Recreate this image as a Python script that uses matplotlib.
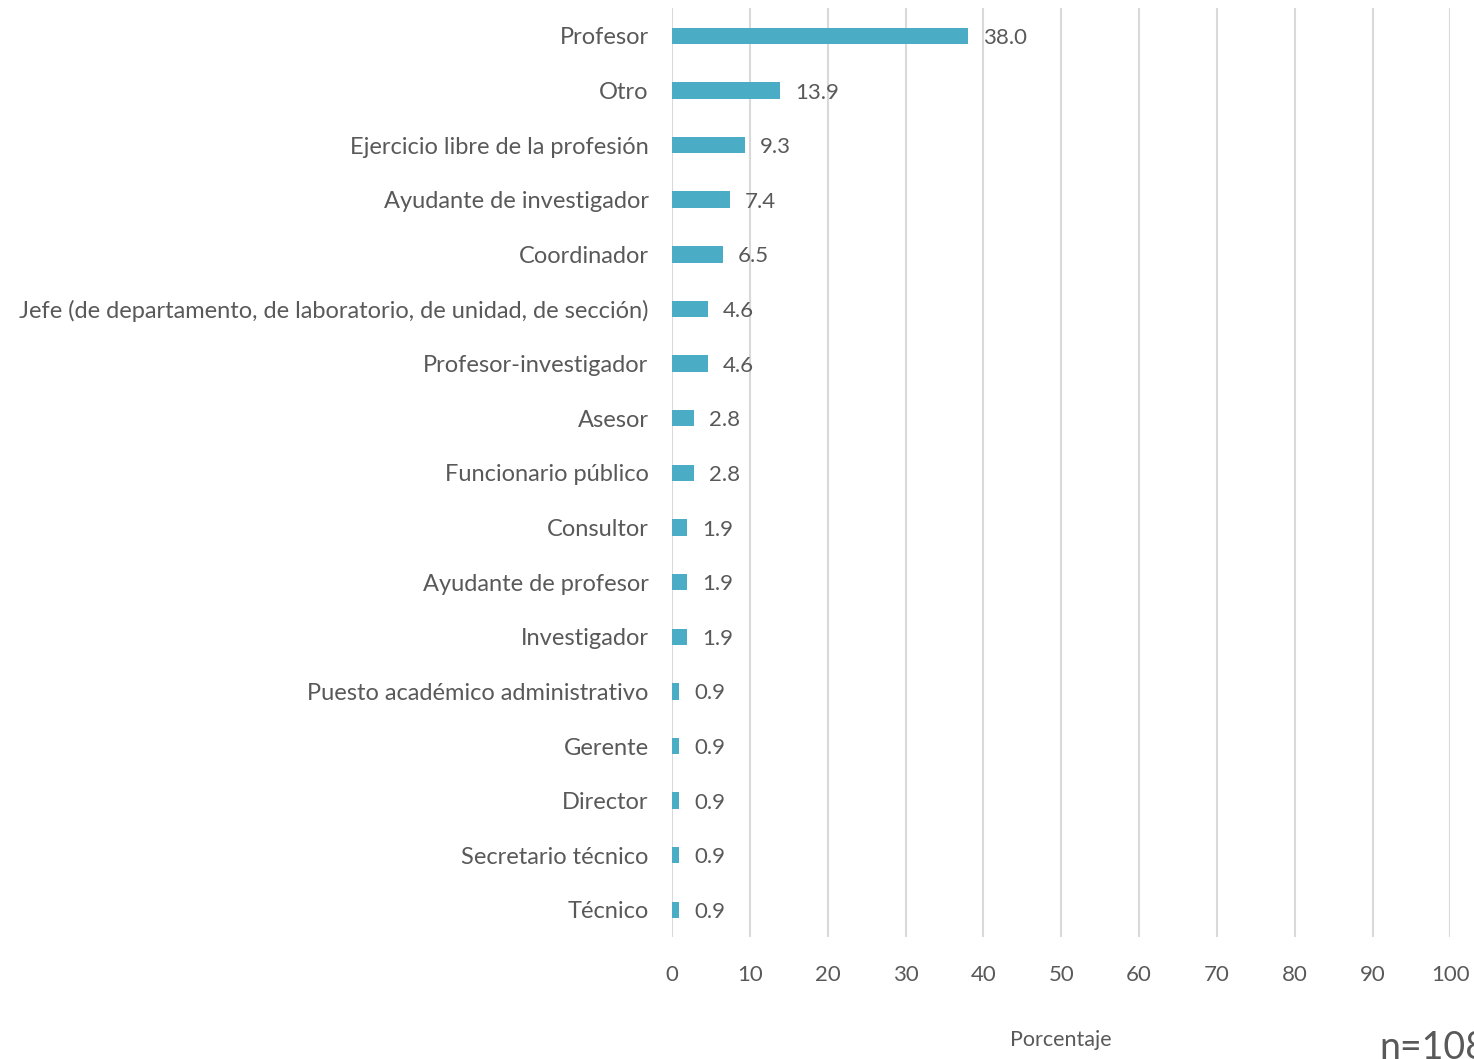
import matplotlib
matplotlib.use('Agg')
import matplotlib.pyplot as plt

categorias = [
    'Profesor', 'Otro', 'Ejercicio libre de la profesión',
    'Ayudante de investigador', 'Coordinador',
    'Jefe (de departamento, de laboratorio, de unidad, de sección)',
    'Profesor-investigador', 'Asesor', 'Funcionario público', 'Consultor',
    'Ayudante de profesor', 'Investigador',
    'Puesto académico administrativo', 'Gerente', 'Director',
    'Secretario técnico', 'Técnico',
]
porcentajes = [38.0, 13.9, 9.3, 7.4, 6.5, 4.6, 4.6, 2.8, 2.8, 1.9, 1.9, 1.9,
               0.9, 0.9, 0.9, 0.9, 0.9]
ticks_x = [0, 10, 20, 30, 40, 50, 60, 70, 80, 90, 100]

plt.rcParams['font.family'] = ['Lato', 'DejaVu Sans']
gris = '#595959'

fig = plt.figure(figsize=(14.74, 10.59), dpi=100)
ax = fig.add_axes([0.456, 0.115, 0.528, 0.877])

y = list(range(len(categorias)))
ax.barh(y, porcentajes, height=0.3, color='#4BACC6', zorder=3)
for yi, v in zip(y, porcentajes):
    ax.annotate('%.1f' % v, (v, yi), xytext=(11, -1.5), textcoords='offset points',
                va='center', ha='left', fontsize=16, color=gris)

ax.set_xlim(0, 100)
ax.set_ylim(len(categorias) - 0.5, -0.5)
ax.set_yticks(y)
ax.set_yticklabels(categorias, fontsize=17, color=gris)
ax.set_xticks(ticks_x)
ax.set_xticklabels([str(t) for t in ticks_x], fontsize=16, color=gris)
ax.tick_params(length=0, pad=17)
ax.tick_params(axis='x', pad=20)
ax.grid(axis='x', color='#D9D9D9', linewidth=1.5, zorder=0)
for s in ax.spines.values():
    s.set_visible(False)

fig.text(0.72, 0.012, 'Porcentaje', fontsize=15.5, color=gris, ha='center')
# la nota n queda cortada en el borde, como en el original
fig.text(0.936, 0.0, 'n=108', fontsize=27, color=gris, ha='left')

fig.savefig('out.png', dpi=100)
